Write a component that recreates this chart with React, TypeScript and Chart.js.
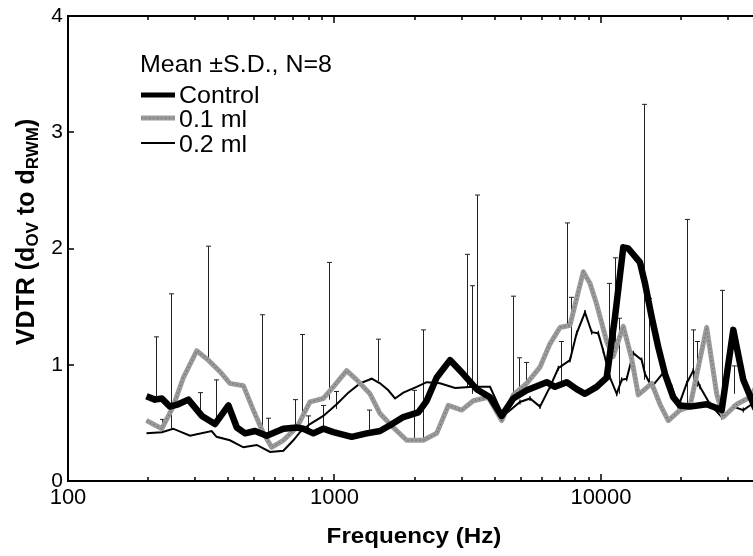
import React, { useEffect, useRef } from "react";
import { Chart, registerables } from "chart.js";
Chart.register(...registerables);

const FONT = '"Liberation Sans", Arial, Helvetica, sans-serif';

// ---- data ----
const controlFreq = [197,212,225,241,259,283,318,356,400,430,462,503,557,643,722,764,833,908,990,1160,1321,1482,1616,1813,2063,2218,2418,2713,3043,3416,3833,4241,4687,5263,6256,6721,7435,8103,8710,9636,10505,11285,12125,12660,14007,14627,15500,16406,17390,18674,19788,21577,24926,28379,31368,34198,38000];
const controlVal = [0.73,0.70,0.71,0.64,0.66,0.70,0.56,0.49,0.65,0.46,0.41,0.43,0.39,0.45,0.46,0.45,0.41,0.45,0.42,0.38,0.41,0.43,0.48,0.55,0.59,0.69,0.89,1.04,0.92,0.79,0.72,0.56,0.71,0.78,0.85,0.81,0.85,0.79,0.75,0.81,0.89,1.41,2.01,2.00,1.88,1.70,1.41,1.15,0.92,0.72,0.65,0.64,0.66,0.61,1.30,0.87,0.62];

const ml01Freq = [197,225,248,271,304,336,372,405,455,496,541,581,643,722,809,908,990,1111,1212,1359,1482,1662,1866,2154,2418,2673,3001,3318,3777,4241,4687,5263,5904,6436,7018,7650,8584,9094,9636,10505,11100,12125,13040,13804,15500,16652,17886,19788,21577,24926,27178,28770,32310,36236,38000];
const ml01Val = [0.52,0.45,0.64,0.89,1.12,1.04,0.94,0.84,0.82,0.61,0.41,0.29,0.35,0.46,0.68,0.71,0.81,0.95,0.87,0.75,0.58,0.46,0.35,0.35,0.41,0.65,0.61,0.69,0.72,0.52,0.74,0.84,0.98,1.18,1.32,1.34,1.80,1.70,1.52,1.20,1.07,1.33,1.05,0.74,0.84,0.66,0.52,0.61,0.64,1.32,0.75,0.55,0.66,0.72,0.80];

const ml02Freq = [197,225,248,287,346,361,405,455,511,573,643,701,742,809,908,1019,1127,1246,1379,1482,1592,1687,1813,2034,2218,2488,2833,3318,3833,4300,4966,5415,5904,6436,6916,7650,8103,8710,9229,9770,10200,10810,11453,11958,12487,13219,14215,14627,15500,17390,18425,19503,20968,22196,23520,25645,28379,31368,34198,36780,38000];
const ml02Val = [0.41,0.42,0.45,0.39,0.43,0.38,0.35,0.29,0.31,0.25,0.26,0.35,0.42,0.49,0.56,0.66,0.76,0.84,0.88,0.84,0.78,0.71,0.76,0.81,0.85,0.84,0.80,0.81,0.81,0.56,0.68,0.71,0.64,0.81,0.97,1.04,1.27,1.45,1.28,1.27,1.12,0.89,0.75,0.87,0.88,1.10,1.04,0.92,0.81,0.95,0.81,0.64,0.84,0.95,0.81,0.66,0.55,0.64,0.61,0.66,0.65];

const errFreq = [214,225,244,313,336,358,533,562,711,753,796,908,956,1009,1348,1456,1988,2143,3150,3272,3416,4687,4937,5217,7078,7435,7716,10715,11285,11715,14503,15101,20968,22084,22918,28530,31637];
const errLow = [0.73,0.45,0.45,0.58,1.04,0.48,0.43,0.36,0.45,0.55,0.45,0.45,0.70,0.62,0.42,0.86,0.37,0.37,0.80,0.75,0.78,0.72,0.72,0.78,0.86,1.32,1.07,1.00,1.10,0.75,0.87,0.84,0.61,0.75,0.81,0.58,0.75];
const errHigh = [1.24,0.53,1.61,0.76,2.02,0.87,1.43,0.54,0.70,1.26,0.56,0.65,1.88,0.77,0.61,1.22,0.78,1.30,1.95,1.68,2.46,1.59,1.06,1.02,1.20,2.22,1.58,1.70,1.92,1.40,3.24,1.57,2.25,1.30,1.20,1.64,0.99];

const seriesLabels = ["Control", "0.1 ml", "0.2 ml"];
const legendTitle = "Mean \u00B1S.D., N=8";
const xTitle = "Frequency (Hz)";
const yTitleParts = [
  { t: "VDTR (d", sub: false },
  { t: "OV", sub: true },
  { t: " to d", sub: false },
  { t: "RWM", sub: true },
  { t: ")", sub: false },
];
const xMin = 100;
const xMax = 37190;
const yMin = 0;
const yMax = 4;

const toPts = (f: number[], v: number[]) => f.map((x, i) => ({ x, y: v[i] }));

function drawText(ctx: CanvasRenderingContext2D, text: string, x: number, y: number, font: string, align: string, sx = 1) {
  ctx.save();
  ctx.font = font;
  ctx.textBaseline = "alphabetic";
  ctx.textAlign = "left";
  const w = ctx.measureText(text).width * sx;
  const x0 = align === "center" ? x - w / 2 : align === "right" ? x - w : x;
  ctx.translate(x0, y);
  ctx.scale(sx, 1);
  ctx.fillStyle = "#000";
  ctx.fillText(text, 0, 0);
  ctx.restore();
}

const chromePlugin = {
  id: "chrome",
  beforeDatasetsDraw(chart: any) {
    const { ctx, chartArea, scales } = chart;
    const xs = scales.x, ys = scales.y;
    ctx.save();
    ctx.beginPath();
    ctx.rect(chartArea.left, chartArea.top, chartArea.right - chartArea.left, chartArea.bottom - chartArea.top);
    ctx.clip();
    ctx.strokeStyle = "#222";
    ctx.lineWidth = 1;
    for (let i = 0; i < errFreq.length; i++) {
      const px = Math.round(xs.getPixelForValue(errFreq[i])) + 0.5;
      const pt = ys.getPixelForValue(errHigh[i]);
      const pb = ys.getPixelForValue(errLow[i]);
      ctx.beginPath();
      ctx.moveTo(px, pb);
      ctx.lineTo(px, pt);
      ctx.moveTo(px - 2.5, pt);
      ctx.lineTo(px + 2.5, pt);
      ctx.stroke();
    }
    ctx.restore();
  },
  afterDraw(chart: any) {
    const { ctx, chartArea, scales } = chart;
    const xs = scales.x, ys = scales.y;
    const { left, right, top, bottom } = chartArea;
    ctx.save();
    ctx.strokeStyle = "#000";
    ctx.lineWidth = 2;
    ctx.beginPath();
    ctx.moveTo(left, top);
    ctx.lineTo(left, bottom);
    ctx.moveTo(left - 1, top);
    ctx.lineTo(right, top);
    ctx.moveTo(left - 1, bottom);
    ctx.lineTo(right, bottom);
    ctx.stroke();
    ctx.lineWidth = 1.5;
    ctx.beginPath();
    for (let e = 2; e <= 4; e++) {
      for (let m = 1; m <= 9; m++) {
        const v = m * Math.pow(10, e);
        if (v < xMin || v > xMax) continue;
        const px = Math.round(xs.getPixelForValue(v));
        const len = m === 1 ? 7 : 4;
        ctx.moveTo(px, bottom);
        ctx.lineTo(px, bottom - len);
        ctx.moveTo(px, top);
        ctx.lineTo(px, top + len);
      }
    }
    for (let v = 1; v <= 3; v++) {
      const py = Math.round(ys.getPixelForValue(v));
      ctx.moveTo(left, py);
      ctx.lineTo(left + 6, py);
    }
    ctx.stroke();
    ctx.restore();

    // x title
    drawText(ctx, xTitle, 414, 543, `bold 22px ${FONT}`, "center", 1.1);

    // y title (rotated, with subscripts)
    ctx.save();
    ctx.translate(34, 232);
    ctx.rotate(-Math.PI / 2);
    const bigF = `bold 25px ${FONT}`;
    const subF = `bold 17px ${FONT}`;
    let total = 0;
    for (const p of yTitleParts) {
      ctx.font = p.sub ? subF : bigF;
      total += ctx.measureText(p.t).width;
    }
    let cx = -total / 2;
    ctx.fillStyle = "#000";
    ctx.textBaseline = "alphabetic";
    ctx.textAlign = "left";
    for (const p of yTitleParts) {
      ctx.font = p.sub ? subF : bigF;
      ctx.fillText(p.t, cx, p.sub ? 4 : 0);
      cx += ctx.measureText(p.t).width;
    }
    ctx.restore();

    // legend
    const lf = `24px ${FONT}`;
    drawText(ctx, legendTitle, 140, 72, lf, "left", 1.04);
    const ly = [95, 118, 143];
    ctx.save();
    ctx.lineCap = "butt";
    ctx.strokeStyle = "#000";
    ctx.lineWidth = 5;
    ctx.beginPath(); ctx.moveTo(141, ly[0]); ctx.lineTo(175, ly[0]); ctx.stroke();
    ctx.strokeStyle = "#9a9a9a";
    ctx.lineWidth = 5;
    ctx.beginPath(); ctx.moveTo(141, ly[1]); ctx.lineTo(175, ly[1]); ctx.stroke();
    ctx.strokeStyle = "rgba(70,70,70,0.6)";
    ctx.lineWidth = 1.2;
    ctx.setLineDash([1, 3]);
    ctx.beginPath(); ctx.moveTo(141, ly[1]); ctx.lineTo(175, ly[1]); ctx.stroke();
    ctx.setLineDash([]);
    ctx.strokeStyle = "#000";
    ctx.lineWidth = 2;
    ctx.beginPath(); ctx.moveTo(141, ly[2]); ctx.lineTo(175, ly[2]); ctx.stroke();
    ctx.restore();
    drawText(ctx, seriesLabels[0], 179, 103, lf, "left", 1.04);
    drawText(ctx, seriesLabels[1], 179, 127, lf, "left", 1.04);
    drawText(ctx, seriesLabels[2], 179, 152, lf, "left", 1.04);
  },
};

export default function App() {
  const ref = useRef<HTMLCanvasElement | null>(null);
  useEffect(() => {
    document.body.style.margin = "0";
    const canvas = ref.current;
    if (!canvas) return;
    const chart = new Chart(canvas, {
      type: "line",
      data: {
        datasets: [
          {
            label: seriesLabels[0],
            data: toPts(controlFreq, controlVal),
            borderColor: "#000",
            borderWidth: 6.5,
            pointRadius: 0,
            tension: 0,
            borderJoinStyle: "round",
          },
          {
            label: seriesLabels[1] + " texture",
            data: toPts(ml01Freq, ml01Val),
            borderColor: "rgba(60,60,60,0.55)",
            borderWidth: 1.2,
            borderDash: [1, 3],
            pointRadius: 0,
            tension: 0,
          },
          {
            label: seriesLabels[1],
            data: toPts(ml01Freq, ml01Val),
            borderColor: "#9a9a9a",
            borderWidth: 5,
            pointRadius: 0,
            tension: 0,
            borderJoinStyle: "round",
          },
          {
            label: seriesLabels[2],
            data: toPts(ml02Freq, ml02Val),
            borderColor: "#000",
            borderWidth: 2,
            tension: 0,
            pointStyle: "line",
            rotation: 90,
            pointBorderColor: "#000",
            pointBorderWidth: 1.2,
            pointRadius: (c: any) => (c.raw && c.raw.x >= 4000 ? 2.5 : 0),
          },
        ],
      },
      options: {
        responsive: false,
        animation: false,
        layout: { autoPadding: false, padding: { top: 16, right: 0, left: 0, bottom: 0 } },
        plugins: { legend: { display: false }, tooltip: { enabled: false } },
        scales: {
          x: {
            type: "logarithmic",
            min: xMin,
            max: xMax,
            grid: { display: false, drawTicks: false },
            border: { display: false },
            afterFit: (s: any) => { s.height = 75; s.paddingLeft = 0; s.paddingRight = 0; },
            ticks: {
              autoSkip: false,
              maxRotation: 0,
              padding: 4,
              color: "#000",
              font: { family: FONT, size: 22 },
              callback: (v: any) => {
                const n = Number(v);
                const l = Math.log10(n);
                return Math.abs(l - Math.round(l)) < 1e-6 && n < xMax ? String(Math.round(n)) : "";
              },
            },
          },
          y: {
            min: yMin,
            max: yMax,
            grid: { display: false, drawTicks: false },
            border: { display: false },
            afterFit: (s: any) => { s.width = 68; s.paddingTop = 0; s.paddingBottom = 0; },
            ticks: {
              stepSize: 1,
              padding: 5,
              color: "#000",
              font: { family: FONT, size: 21 },
            },
          },
        },
      },
      plugins: [chromePlugin],
    } as any);
    return () => chart.destroy();
  }, []);
  return (
    <div style={{ width: 753, height: 556, background: "#fff" }}>
      <canvas ref={ref} width={753} height={556} style={{ display: "block" }} />
    </div>
  );
}
